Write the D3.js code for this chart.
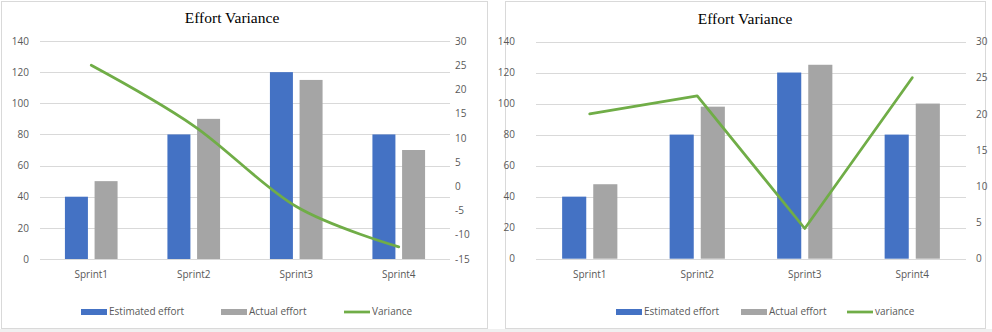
<!doctype html>
<html>
<head>
<meta charset="utf-8">
<script src="https://d3js.org/d3.v7.min.js"></script>
<title>Effort Variance</title>
<style>
  body { margin: 0; background: #fff; }
</style>
</head>
<body>
<svg id="svg" width="992" height="332"></svg>
<script>
// data
const sprints = ["Sprint1", "Sprint2", "Sprint3", "Sprint4"];

const estimatedA = [40, 80, 120, 80];
const actualA = [50, 90, 115, 70];
const varianceA = [25, 12.5, -4.17, -12.5];

const estimatedB = [40, 80, 120, 80];
const actualB = [48, 98, 125, 100];
const varianceB = [20, 22.5, 4.17, 25];

const effortTicks = [0, 20, 40, 60, 80, 100, 120, 140];
const varTicksA = [-15, -10, -5, 0, 5, 10, 15, 20, 25, 30];
const varTicksB = [0, 5, 10, 15, 20, 25, 30];

const legendA = ["Estimated effort", "Actual effort", "Variance"];
const legendB = ["Estimated effort", "Actual effort", "variance"];

const blue = "#4472c4", grey = "#a5a5a5", green = "#70ad47";
const labelFont = "Open Sans, sans-serif";

let svg = d3.select("#svg");

// background bits: bottom shadow + panel frames
svg.append("rect").attr("x", 0).attr("y", 329).attr("width", 992).attr("height", 3).attr("fill", "#f0f0f0");

function drawChart(opt) {
    let g = svg.append("g");

    g.append("rect")
        .attr("x", opt.frame[0] + 0.5).attr("y", opt.frame[1] + 0.5)
        .attr("width", opt.frame[2]).attr("height", opt.frame[3])
        .attr("fill", "#fff").attr("stroke", "#d9d9d9");

    let xScale = d3.scaleBand().domain(sprints).range([opt.left, opt.right]);
    let yScale = d3.scaleLinear().domain([0, 140]).range([opt.bottom, opt.top]);
    let vScale = d3.scaleLinear().domain(d3.extent(opt.varTicks)).range([opt.bottom, opt.top]);
    let sScale = d3.scaleBand().domain(["est", "act"])
        .range([0, xScale.bandwidth()]).paddingInner(0.225).paddingOuter(0.84);

    // grid
    g.append("g").selectAll("line")
        .data(effortTicks)
        .join("line")
        .attr("x1", opt.left).attr("x2", opt.right)
        .attr("y1", d => Math.round(yScale(d)) + 0.5)
        .attr("y2", d => Math.round(yScale(d)) + 0.5)
        .attr("stroke", "#d9d9d9").attr("stroke-width", 1);

    // left axis
    let yAxis = g.append("g")
        .attr("transform", `translate(${opt.left - opt.leftGap}, 0)`)
        .call(d3.axisLeft(yScale).tickValues(effortTicks).tickFormat(d => String(d)).tickSize(0).tickPadding(0));
    yAxis.select(".domain").remove();

    // right axis
    let vAxis = g.append("g")
        .attr("transform", `translate(${opt.right + opt.rightGap}, 0)`)
        .call(d3.axisRight(vScale).tickValues(opt.varTicks).tickFormat(d => String(d)).tickSize(0).tickPadding(0));
    vAxis.select(".domain").remove();

    // x axis labels
    let xAxis = g.append("g")
        .attr("transform", `translate(0, ${opt.bottom + 12})`)
        .call(d3.axisBottom(xScale).tickSize(0).tickPadding(0));
    xAxis.select(".domain").remove();

    g.selectAll(".tick text")
        .attr("font-size", "10px")
        .attr("font-family", labelFont)
        .attr("fill", "#595959");

    // bars
    let bars = sprints.map((s, i) => ({ s: s, est: opt.est[i], act: opt.act[i] }));
    let groups = g.append("g").selectAll("g")
        .data(bars)
        .join("g")
        .attr("transform", d => `translate(${xScale(d.s)}, 0)`);

    groups.append("rect")
        .attr("x", sScale("est"))
        .attr("width", sScale.bandwidth())
        .attr("y", d => yScale(d.est))
        .attr("height", d => yScale(0) - yScale(d.est))
        .attr("fill", blue);

    groups.append("rect")
        .attr("x", sScale("act"))
        .attr("width", sScale.bandwidth())
        .attr("y", d => yScale(d.act))
        .attr("height", d => yScale(0) - yScale(d.act))
        .attr("fill", grey);

    // variance line
    let line = d3.line()
        .x((d, i) => xScale(sprints[i]) + xScale.bandwidth() / 2)
        .y(d => vScale(d))
        .curve(opt.smooth ? d3.curveCatmullRom.alpha(0) : d3.curveLinear);

    g.append("path")
        .datum(opt.variance)
        .attr("d", line)
        .attr("fill", "none")
        .attr("stroke", green)
        .attr("stroke-width", 2.75)
        .attr("stroke-linejoin", "round")
        .attr("stroke-linecap", "round");

    // title
    g.append("text")
        .attr("x", opt.titleX).attr("y", opt.titleY)
        .attr("text-anchor", "middle")
        .attr("font-family", "Liberation Serif, Times New Roman, serif")
        .attr("font-size", "15.5px")
        .attr("fill", "#000")
        .text("Effort Variance");

    // legend
    let lg = g.append("g").attr("transform", `translate(0, ${opt.legendY})`);
    opt.legend.forEach((name, i) => {
        let x = opt.legendX[i];
        if (i < 2) {
            lg.append("rect").attr("x", x).attr("y", -6).attr("width", 26).attr("height", 6)
                .attr("fill", i === 0 ? blue : grey);
        } else {
            lg.append("line").attr("x1", x).attr("x2", x + 26).attr("y1", -3).attr("y2", -3)
                .attr("stroke", green).attr("stroke-width", 2.75);
        }
        lg.append("text")
            .attr("x", x + 28).attr("y", 0)
            .attr("font-size", "10px")
            .attr("font-family", labelFont)
            .attr("fill", "#595959")
            .text(name);
    });
}

drawChart({
    frame: [1, 1, 486, 327],
    left: 40, right: 450, top: 41, bottom: 259,
    leftGap: 11, rightGap: 5,
    est: estimatedA, act: actualA, variance: varianceA,
    varTicks: varTicksA, smooth: true,
    titleX: 232, titleY: 22.5,
    legend: legendA, legendX: [81, 221, 344], legendY: 315
});

drawChart({
    frame: [505, 1, 480, 327],
    left: 536, right: 966, top: 41.5, bottom: 258.7,
    leftGap: 21, rightGap: 10,
    est: estimatedB, act: actualB, variance: varianceB,
    varTicks: varTicksB, smooth: false,
    titleX: 745, titleY: 23.5,
    legend: legendB, legendX: [616, 741, 847], legendY: 315
});
</script>
</body>
</html>
